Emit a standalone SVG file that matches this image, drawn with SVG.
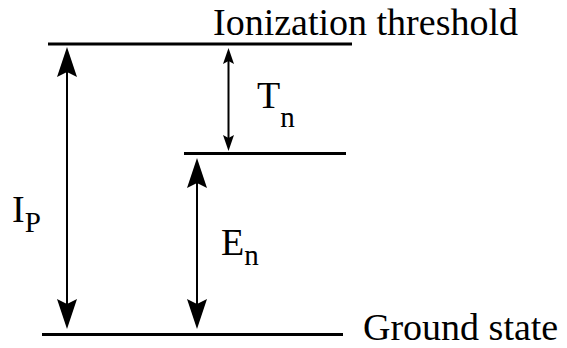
<svg xmlns="http://www.w3.org/2000/svg" width="567" height="348" viewBox="0 0 567 348">
<defs>
<style>
.lvl{stroke:#000;stroke-width:3;fill:none}
.sh{stroke:#000;stroke-width:2;fill:none}
.t{font-family:'Liberation Serif','Tinos','Times New Roman','DejaVu Serif',serif;fill:#000;font-size:38px}
.sub{font-size:29px}
</style>
<path id="hb" d="M0,0 L10,30 L0,25 L-10,30 Z" fill="#000"/>
<path id="hs" d="M0,0 L5.5,16 L0,13 L-5.5,16 Z" fill="#000"/>
</defs>
<g id="ionization-level">
<line class="lvl" x1="48" y1="44" x2="352" y2="44"/>
<text class="t" x="213" y="35">Ionization threshold</text>
</g>
<g id="excited-level">
<line class="lvl" x1="184" y1="153.5" x2="346" y2="153.5"/>
</g>
<g id="ground-level">
<line class="lvl" x1="42" y1="334.5" x2="343" y2="334.5"/>
<text class="t" x="363" y="340">Ground state</text>
</g>
<g id="connectors">
<g id="ip-arrow">
<line class="sh" x1="67" y1="65" x2="67" y2="310"/>
<use href="#hb" transform="translate(67,47)"/>
<use href="#hb" transform="translate(67,329) rotate(180)"/>
</g>
<g id="tn-arrow">
<line class="sh" x1="228.5" y1="58" x2="228.5" y2="140"/>
<use href="#hs" transform="translate(228.5,48)"/>
<use href="#hs" transform="translate(228.5,151) rotate(180)"/>
</g>
<g id="en-arrow">
<line class="sh" x1="197" y1="175" x2="197" y2="310"/>
<use href="#hb" transform="translate(197,158)"/>
<use href="#hb" transform="translate(197,329) rotate(180)"/>
</g>
</g>
<g id="labels">
<text class="t" x="12" y="222">I<tspan class="sub" dy="10">P</tspan></text>
<text class="t" x="257" y="108">T<tspan class="sub" dy="19">n</tspan></text>
<text class="t" x="221" y="255">E<tspan class="sub" dy="10">n</tspan></text>
</g>
</svg>
